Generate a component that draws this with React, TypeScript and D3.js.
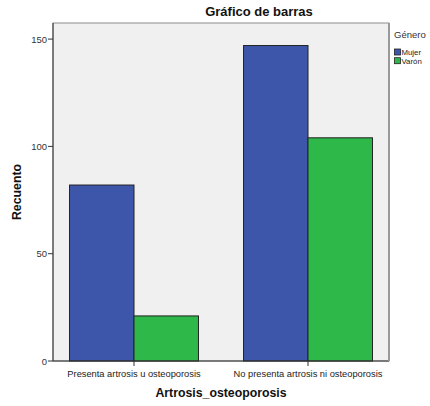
import React from "react";
import * as d3 from "d3";

const categories = ["Presenta artrosis u osteoporosis", "No presenta artrosis ni osteoporosis"];
const series = ["Mujer", "Varón"];
const mujer = [82, 147];
const varon = [21, 104];
const yTicks = [0, 50, 100, 150];
const colors = ["#3d56a9", "#2fb84a"];

const W = 430, H = 406;
const left = 53, right = 389, top = 23, bottom = 361;
const font = "'Liberation Sans', Arial, sans-serif";

export default function App() {
  const values = [mujer, varon];
  const x = d3.scaleBand<string>().domain(categories).range([left, right]).paddingInner(0.259).paddingOuter(0.095);
  const xs = d3.scaleBand<string>().domain(series).range([0, x.bandwidth()]);
  const y = d3.scaleLinear().domain([0, 157.5]).range([bottom, top]);
  return (
    <svg width={W} height={H} style={{ position: "absolute", left: 0, top: 0, background: "#fff" }}>
      <rect x={left} y={top} width={right - left} height={bottom - top} fill="#f0f0f0" stroke="#8c8c8c" strokeWidth={1} />
      {categories.map((c, i) =>
        series.map((s, j) => {
          const v = values[j][i];
          return (
            <rect key={c + s} x={(x(c) as number) + (xs(s) as number)} y={y(v)} width={xs.bandwidth()} height={bottom - y(v)}
              fill={colors[j]} stroke="#222" strokeWidth={1} />
          );
        })
      )}
      <line x1={left} x2={left} y1={top} y2={bottom} stroke="#333" />
      <line x1={left} x2={right} y1={bottom} y2={bottom} stroke="#333" />
      <line x1={right} x2={right} y1={top} y2={bottom} stroke="#999" strokeWidth={2} />
      {yTicks.map(t => (
        <g key={t}>
          <line x1={left - 5} x2={left} y1={y(t)} y2={y(t)} stroke="#333" />
          <text x={left - 6} y={y(t) + 3.5} textAnchor="end" fontFamily={font} fontSize={9.5} fill="#333">{t}</text>
        </g>
      ))}
      {categories.map(c => {
        const cx = (x(c) as number) + x.bandwidth() / 2;
        return (
          <g key={c}>
            <line x1={cx} x2={cx} y1={bottom} y2={bottom + 5} stroke="#333" />
            <text x={cx} y={377} textAnchor="middle" fontFamily={font} fontSize={9.3} fill="#222">{c}</text>
          </g>
        );
      })}
      <text x={259} y={16} textAnchor="middle" fontFamily={font} fontSize={13} fontWeight="bold" fill="#111">Gráfico de barras</text>
      <text x={221} y={397} textAnchor="middle" fontFamily={font} fontSize={12.3} fontWeight="bold" fill="#111">Artrosis_osteoporosis</text>
      <text transform={`translate(21,192) rotate(-90)`} textAnchor="middle" fontFamily={font} fontSize={12.3} fontWeight="bold" fill="#111">Recuento</text>
      <text x={394} y={38} fontFamily={font} fontSize={9.5} fill="#333">Género</text>
      {series.map((s, j) => (
        <g key={s}>
          <rect x={394.5} y={49 + j * 8.7} width={6} height={6} fill={colors[j]} stroke="#222" strokeWidth={0.8} />
          <text x={401.5} y={55.3 + j * 8.7} fontFamily={font} fontSize={7.8} fill="#222">{s}</text>
        </g>
      ))}
    </svg>
  );
}
